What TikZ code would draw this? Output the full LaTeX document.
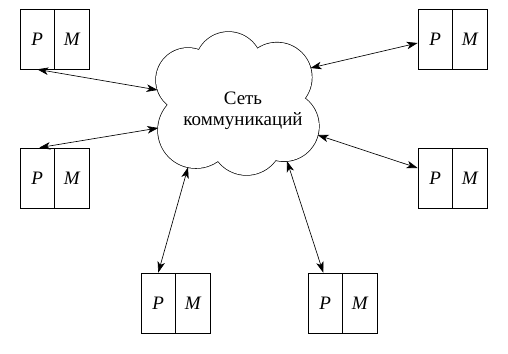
\documentclass[tikz,border=0pt]{standalone}
\usepackage{fontspec}
\setmainfont{Liberation Serif}
\usetikzlibrary{arrows.meta,calc}
\begin{document}
\begin{tikzpicture}[x=1pt,y=-1pt,
  cell/.style={draw, line width=0.7pt, minimum width=34.5pt, minimum height=60pt, inner sep=0pt, font=\fontsize{19}{21}\selectfont\itshape},
  link/.style={line width=0.65pt, {Stealth[length=11pt,width=7.5pt,inset=3pt]}-{Stealth[length=11pt,width=7.5pt,inset=3pt]}},
  lobe/.style={draw, line width=1.4pt},
  lobefill/.style={fill=white},
]
\useasboundingbox (0,0) rectangle (508,353);
% cloud made of overlapping circles: draw, then fill to erase inner strokes
\foreach \cx/\cy/\r in {188/80/32, 228.5/65.4/33.4, 277/77.4/34.8, 284/126.3/34.9, 246.5/139/36, 195.9/130.2/37.9}
  \draw[lobe] (\cx,\cy) circle[radius=\r pt];
\foreach \cx/\cy/\r in {188/80/32, 228.5/65.4/33.4, 277/77.4/34.8, 284/126.3/34.9, 246.5/139/36, 195.9/130.2/37.9, 240/105/30}
  \fill[lobefill] (\cx,\cy) circle[radius=\r pt];
\node[font=\fontsize{19}{21}\selectfont, align=center] (net) at (243,110.5) {Сеть\\коммуникаций};
% boundary points of the cloud
\coordinate (c1) at (157.6,90);
\coordinate (c2) at (158.3,128);
\coordinate (c3) at (310.5,68);
\coordinate (c4) at (317.6,135);
\coordinate (c5) at (188,167.3);
\coordinate (c6) at (287,161.1);
% processor/memory boxes
\node[cell] (p1) at (37.25,39) {P};   \node[cell] (m1) at (71.75,39) {M};
\node[cell] (p2) at (37.25,178) {P};  \node[cell] (m2) at (71.75,178) {M};
\node[cell] (p3) at (435.25,39) {P};  \node[cell] (m3) at (469.75,39) {M};
\node[cell] (p4) at (435.25,178) {P}; \node[cell] (m4) at (469.75,178) {M};
\node[cell] (p5) at (158.25,303) {P}; \node[cell] (m5) at (192.75,303) {M};
\node[cell] (p6) at (325.25,303) {P}; \node[cell] (m6) at (359.75,303) {M};
% connectors
\draw[link] (p1.south) -- (c1);
\draw[link] ([xshift=2pt]p2.north) -- (c2);
\draw[link] ([yshift=-4pt]p3.west) -- (c3);
\draw[link] ([yshift=10pt]p4.west) -- (c4);
\draw[link] (p5.north) -- (c5);
\draw[link] ([xshift=-2pt]p6.north) -- (c6);
\end{tikzpicture}
\end{document}
